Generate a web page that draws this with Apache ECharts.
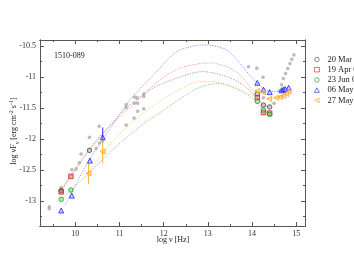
<!DOCTYPE html>
<html><head><meta charset="utf-8">
<script src="https://cdn.jsdelivr.net/npm/echarts@6/dist/echarts.min.js"></script>
<style>html,body{margin:0;padding:0;background:#fff}#c{width:354px;height:273px}</style>
</head><body><div id="c"></div>
<script>
// ---- data ----
const xMajor = [10, 11, 12, 13, 14, 15];
const xMinor = [9.5, 10.5, 11.5, 12.5, 13.5, 14.5];
const yMajor = [-13, -12.5, -12, -11.5, -11, -10.5];
const yMinor = [-13.25, -12.75, -12.25, -11.75, -11.25, -10.75];

const archX = [9.41, 9.41, 9.68, 9.68, 9.92, 10.02, 10.09, 10.13, 10.32, 10.47, 10.54, 10.55,
  11.15, 11.15, 11.15, 11.34, 11.40, 11.34, 11.41, 11.33, 11.41, 11.55, 11.55, 11.55,
  13.92, 14.11, 14.25, 14.26, 14.5, 14.62, 14.67, 14.71, 14.76, 14.81, 14.86, 14.9, 14.95];
const archY = [-13.09, -13.12, -12.78, -12.82, -12.49, -12.48, -12.38, -12.24, -11.97, -12.15, -11.79, -12.06,
  -11.44, -11.49, -11.77, -11.32, -11.33, -11.42, -11.42, -11.66, -11.55, -11.27, -11.31, -11.51,
  -10.83, -10.855, -11.0, -11.33, -11.42, -11.22, -11.12, -11.02, -10.94, -10.86, -10.78, -10.71, -10.64];

const marX = [9.68, 10.32, 14.12, 14.26, 14.40];
const marY = [-12.83, -12.18, -11.27, -11.45, -11.48];
const aprX = [9.68, 9.9, 14.12, 14.26, 14.40];
const aprY = [-12.85, -12.6, -11.33, -11.57, -11.58];
const junX = [9.68, 9.9, 14.12, 14.26, 14.40];
const junY = [-12.97, -12.82, -11.39, -11.53, -11.6];
const may6X = [9.68, 9.92, 10.33, 10.62, 14.12, 14.26, 14.40, 14.67, 14.71, 14.75, 14.83];
const may6Y = [-13.15, -12.91, -12.345, -11.97, -11.09, -11.2, -11.24, -11.21, -11.2, -11.19, -11.17];
const may27X = [10.3, 10.62, 14.12, 14.25, 14.39, 14.55, 14.64, 14.71, 14.78, 14.83];
const may27Y = [-12.55, -12.2, -11.22, -11.24, -11.35, -11.33, -11.32, -11.3, -11.27, -11.23];

// error bars [x, low, high]
const may6ErrX = [10.62];
const may6ErrLo = [-12.06];
const may6ErrHi = [-11.81];
const may27ErrX = [10.3, 10.62];
const may27ErrLo = [-12.72, -12.39];
const may27ErrHi = [-12.38, -11.99];

// model curves
const blueModX = [9.77, 10.3, 10.77, 11.07, 11.3, 11.75, 12.29, 12.74, 12.96, 13.42, 13.72, 13.94, 14.12, 14.26, 14.40, 14.55, 14.7, 14.83];
const blueModY = [-13.06, -12.35, -11.85, -11.53, -11.31, -10.98, -10.59, -10.49, -10.48, -10.56, -10.77, -10.96, -11.09, -11.18, -11.23, -11.23, -11.2, -11.17];
const redModX = [9.68, 9.9, 10.3, 10.73, 11.3, 11.9, 12.35, 12.74, 13.04, 13.42, 13.72, 13.98, 14.12, 14.26];
const redModY = [-12.84, -12.58, -12.17, -11.82, -11.45, -11.05, -10.86, -10.79, -10.77, -10.83, -10.96, -11.18, -11.31, -11.5];
const grayModX = [9.68, 10.32, 10.7, 11.15, 11.7, 12.28, 12.89, 13.42, 13.79, 14.12, 14.26, 14.4];
const grayModY = [-12.82, -12.18, -11.85, -11.5, -11.2, -11.02, -10.91, -10.99, -11.12, -11.34, -11.45, -11.48];
const orangeModX = [10.25, 10.62, 11.0, 11.5, 12.0, 12.28, 12.74, 13.12, 13.49, 13.87, 14.12, 14.25, 14.39, 14.55, 14.71, 14.83];
const orangeModY = [-12.62, -12.22, -11.92, -11.6, -11.35, -11.23, -11.08, -11.07, -11.15, -11.26, -11.3, -11.26, -11.33, -11.33, -11.3, -11.23];
const greenModX = [9.68, 10.3, 10.8, 11.2, 11.6, 11.9, 12.35, 12.8, 13.26, 13.71, 14.09, 14.26, 14.4];
const greenModY = [-12.97, -12.55, -12.2, -11.95, -11.72, -11.58, -11.36, -11.17, -11.1, -11.2, -11.39, -11.53, -11.6];

const legendNames = ['20 Mar 08', '19 Apr 08', '23 Jun 08', '06 May 08', '27 May 08'];

// ---- build ----
const zip = (xs, ys) => xs.map((x, i) => [x, ys[i]]);
const FONT = 'Liberation Serif';
const AX = '#555';
const XMIN = 9.2, XMAX = 15.2, YMIN = -13.4, YMAX = -10.4;
const LEFT_TRI = 'path://M0,5L10,0L10,10Z';

function mkX(pos, vals, len, labels) {
  return {
    type: 'value', min: XMIN, max: XMAX, position: pos, gridIndex: 0,
    axisLine: { show: true, onZero: false, lineStyle: { color: AX, width: 1 } },
    axisTick: { show: true, inside: true, length: len, customValues: vals, lineStyle: { color: AX } },
    axisLabel: labels ? { show: true, customValues: vals, fontFamily: FONT, fontSize: 8, color: '#333', margin: 4 } : { show: false },
    splitLine: { show: false }
  };
}
function mkY(pos, vals, len, labels) {
  return {
    type: 'value', min: YMIN, max: YMAX, position: pos, gridIndex: 0,
    axisLine: { show: true, onZero: false, lineStyle: { color: AX, width: 1 } },
    axisTick: { show: true, inside: true, length: len, customValues: vals, lineStyle: { color: AX } },
    axisLabel: labels ? { show: true, customValues: vals, fontFamily: FONT, fontSize: 8, color: '#333', margin: 4 } : { show: false },
    splitLine: { show: false }
  };
}

function model(xs, ys, color) {
  return {
    type: 'line', data: zip(xs, ys), showSymbol: false, smooth: 0.3, silent: true,
    lineStyle: { color: color, width: 0.9, type: [1.2, 1.3] }, z: 1
  };
}
function pts(name, xs, ys, symbol, size, fill, border) {
  return {
    name: name, type: 'scatter', data: zip(xs, ys), symbol: symbol, symbolSize: size,
    itemStyle: { color: fill, borderColor: border, borderWidth: 1 }, z: 5
  };
}
function errBars(xs, lo, hi, color) {
  return {
    type: 'custom', silent: true, z: 4,
    data: xs.map((x, i) => [x, lo[i], hi[i]]),
    renderItem: function (params, api) {
      const a = api.coord([api.value(0), api.value(1)]);
      const b = api.coord([api.value(0), api.value(2)]);
      return { type: 'line', shape: { x1: a[0], y1: a[1], x2: b[0], y2: b[1] }, style: { stroke: color, lineWidth: 1 } };
    }
  };
}

const chart = echarts.init(document.getElementById('c'), null, { renderer: 'canvas' });
chart.setOption({
  animation: false,
  backgroundColor: '#fff',
  grid: { left: 40, top: 40, width: 265, height: 186, containLabel: false },
  xAxis: [mkX('bottom', xMajor, 4, true), mkX('bottom', xMinor, 2, false), mkX('top', xMajor, 4, false), mkX('top', xMinor, 2, false)],
  yAxis: [mkY('left', yMajor, 4, true), mkY('left', yMinor, 2, false), mkY('right', yMajor, 4, false), mkY('right', yMinor, 2, false)],
  legend: {
    orient: 'vertical', left: 314, top: 55, itemWidth: 5, itemHeight: 4.5, itemGap: 1.2,
    padding: 0,
    itemStyle: { borderWidth: 0.8, color: '#fff' },
    textStyle: { fontFamily: FONT, fontSize: 8.5, lineHeight: 7.5, color: '#222', padding: [0, 0, 0, 3] },
    data: legendNames
  },
  graphic: [
    { type: 'text', left: 54, top: 52, style: { text: '1510-089', font: '8px "Liberation Serif"', fill: '#222' } },
    { type: 'text', x: 173, y: 240, style: { text: 'log ν [Hz]', font: '8px "Liberation Serif"', fill: '#222', textAlign: 'center', textVerticalAlign: 'middle' } },
    {
      type: 'text', x: 14, y: 131, rotation: Math.PI / 2,
      style: {
        text: 'log νF{sub|ν} [erg cm{sup|-2} s{sup|-1}]',
        font: '8px "Liberation Serif"', fill: '#222', textAlign: 'center', textVerticalAlign: 'middle',
        rich: {
          sub: { fontSize: 6, fontFamily: FONT, verticalAlign: 'bottom', lineHeight: 12 },
          sup: { fontSize: 6, fontFamily: FONT, verticalAlign: 'top', lineHeight: 12 }
        }
      }
    }
  ],
  series: [
    model(blueModX, blueModY, '#8a8aff'),
    model(redModX, redModY, '#ff9090'),
    model(grayModX, grayModY, '#999999'),
    model(orangeModX, orangeModY, '#ffc870'),
    model(greenModX, greenModY, '#80c880'),
    { type: 'scatter', data: zip(archX, archY), symbol: 'circle', symbolSize: 3, itemStyle: { color: '#b0b0b0', borderColor: '#909090', borderWidth: 0.4 }, z: 3, silent: true },
    errBars(may6ErrX, may6ErrLo, may6ErrHi, '#3030ff'),
    errBars(may27ErrX, may27ErrLo, may27ErrHi, '#ffb030'),
    pts(legendNames[0], marX, marY, 'circle', 4.5, 'rgba(150,150,150,0.5)', '#444'),
    pts(legendNames[1], aprX, aprY, 'rect', 4.5, 'rgba(230,90,90,0.6)', '#d02020'),
    pts(legendNames[2], junX, junY, 'circle', 4.5, 'rgba(120,200,120,0.5)', '#10a010'),
    pts(legendNames[3], may6X, may6Y, 'triangle', 5, 'rgba(130,130,255,0.5)', '#2020ff'),
    pts(legendNames[4], may27X, may27Y, LEFT_TRI, 5, 'rgba(255,200,110,0.6)', '#ffa020')
  ]
});
</script></body></html>
